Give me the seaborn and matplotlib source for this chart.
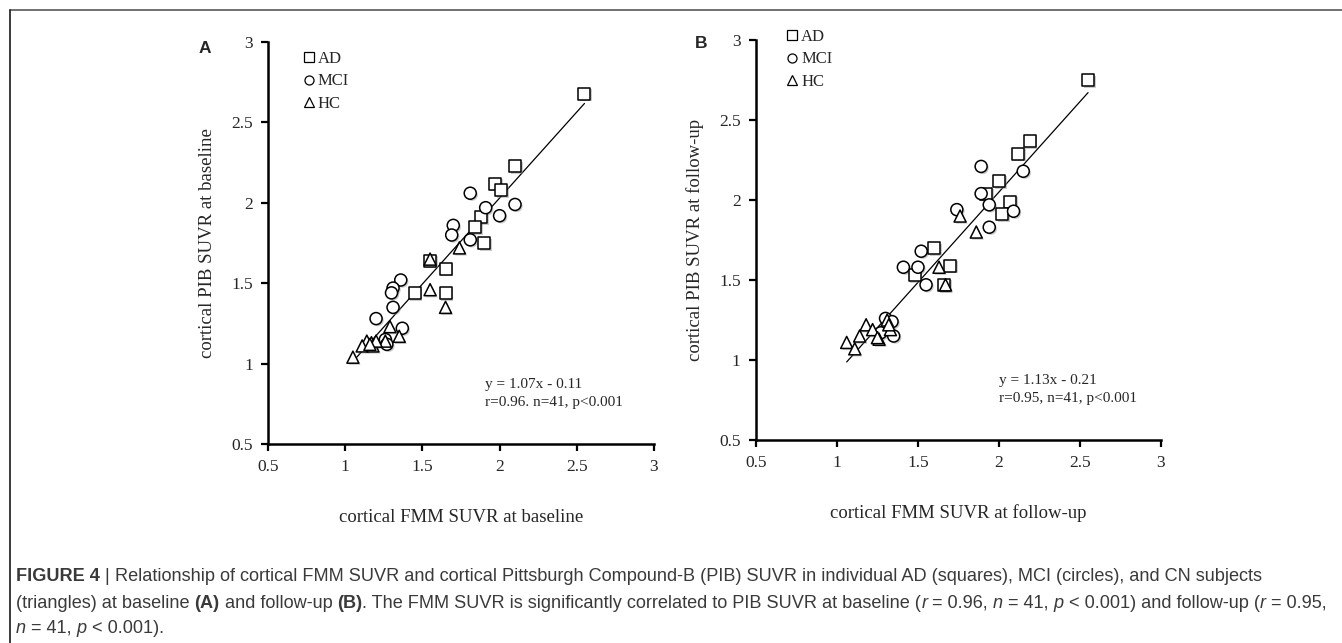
import numpy as np
import pandas as pd
import matplotlib
matplotlib.use('Agg')
import matplotlib.pyplot as plt
import matplotlib.patheffects as pe
from matplotlib.lines import Line2D
import seaborn as sns

sns.set_style('white')
plt.rcParams['font.family'] = ['Liberation Serif', 'DejaVu Serif']

# Panel A: baseline values
a_ad_x = [2.55, 2.10, 1.97, 2.01, 1.88, 1.84, 1.90, 1.55, 1.65, 1.45, 1.65]
a_ad_y = [2.68, 2.23, 2.12, 2.08, 1.91, 1.85, 1.75, 1.64, 1.59, 1.44, 1.44]
a_mci_x = [1.81, 1.91, 2.10, 2.00, 1.70, 1.69, 1.81, 1.36, 1.31, 1.30, 1.31, 1.20, 1.37, 1.26, 1.27]
a_mci_y = [2.06, 1.97, 1.99, 1.92, 1.86, 1.80, 1.77, 1.52, 1.47, 1.44, 1.35, 1.28, 1.22, 1.15, 1.12]
a_hc_x = [1.55, 1.74, 1.55, 1.65, 1.29, 1.35, 1.26, 1.14, 1.11, 1.17, 1.18, 1.20, 1.05, 1.16]
a_hc_y = [1.65, 1.72, 1.46, 1.35, 1.23, 1.17, 1.14, 1.14, 1.11, 1.13, 1.11, 1.14, 1.04, 1.12]

# Panel B: follow-up values
b_ad_x = [2.55, 2.19, 2.12, 2.00, 1.92, 2.07, 2.02, 1.60, 1.70, 1.48, 1.66]
b_ad_y = [2.75, 2.37, 2.29, 2.12, 2.04, 1.99, 1.91, 1.70, 1.59, 1.53, 1.47]
b_mci_x = [1.89, 2.15, 1.89, 1.94, 2.09, 1.74, 1.94, 1.52, 1.41, 1.50, 1.55, 1.30, 1.34, 1.35, 1.27]
b_mci_y = [2.21, 2.18, 2.04, 1.97, 1.93, 1.94, 1.83, 1.68, 1.58, 1.58, 1.47, 1.26, 1.24, 1.15, 1.17]
b_hc_x = [1.76, 1.86, 1.63, 1.67, 1.06, 1.11, 1.14, 1.18, 1.22, 1.26, 1.25, 1.31, 1.33, 1.32]
b_hc_y = [1.90, 1.80, 1.58, 1.47, 1.11, 1.07, 1.15, 1.22, 1.19, 1.13, 1.14, 1.25, 1.19, 1.22]

groups = ['AD', 'MCI', 'HC']
group_markers = {'AD': 's', 'MCI': 'o', 'HC': '^'}
ticks = [0.5, 1, 1.5, 2, 2.5, 3]
tick_labels = ['0.5', '1', '1.5', '2', '2.5', '3']


def make_df(ad_x, ad_y, mci_x, mci_y, hc_x, hc_y):
    parts = []
    for g, xs, ys in [('AD', ad_x, ad_y), ('MCI', mci_x, mci_y), ('HC', hc_x, hc_y)]:
        parts.append(pd.DataFrame({'fmm': xs, 'pib': ys, 'group': g}))
    return pd.concat(parts, ignore_index=True)


fig = plt.figure(figsize=(13.42, 6.43), dpi=100)

panels = [
    dict(df=make_df(a_ad_x, a_ad_y, a_mci_x, a_mci_y, a_hc_x, a_hc_y),
         rect=[0.1997, 0.3095, 0.2876, 0.625], slope=1.07, icpt=-0.11,
         line_x=(1.05, 2.55),
         eq='y = 1.07x - 0.11', stat='r=0.96. n=41, p<0.001', eq_xy=(0.562, 0.147),
         xlabel='cortical FMM SUVR at baseline', ylabel='cortical PIB SUVR at baseline',
         letter='A', letter_pos=(0.148, 0.924), leg_xy=(0.075, 0.995)),
    dict(df=make_df(b_ad_x, b_ad_y, b_mci_x, b_mci_y, b_hc_x, b_hc_y),
         rect=[0.5633, 0.3157, 0.3018, 0.622], slope=1.13, icpt=-0.21,
         line_x=(1.06, 2.55),
         eq='y = 1.13x - 0.21', stat='r=0.95, n=41, p<0.001', eq_xy=(0.60, 0.148),
         xlabel='cortical FMM SUVR at follow-up', ylabel='cortical PIB SUVR at follow-up',
         letter='B', letter_pos=(0.518, 0.933), leg_xy=(0.06, 1.045)),
]

shadow = [pe.SimplePatchShadow(offset=(1.2, -1.2), shadow_rgbFace='0.55', alpha=0.45), pe.Normal()]

for p in panels:
    ax = fig.add_axes(p['rect'])
    sns.scatterplot(data=p['df'], x='fmm', y='pib', style='group', markers=group_markers,
                    style_order=groups, s=75, facecolor='white', edgecolor='black',
                    linewidth=1.1, legend=False, ax=ax, zorder=3)
    for coll in ax.collections:
        coll.set_path_effects(shadow)
    lx = np.array(p['line_x'])
    ax.plot(lx, p['slope'] * lx + p['icpt'], color='black', lw=0.9, zorder=2)

    ax.set_xlim(0.5, 3)
    ax.set_ylim(0.5, 3)
    ax.set_xticks(ticks)
    ax.set_xticklabels(tick_labels)
    ax.set_yticks(ticks)
    ax.set_yticklabels(tick_labels)
    ax.tick_params(axis='both', direction='out', length=5, width=1.6, color='black',
                   labelsize=12.5, pad=6, bottom=True, left=True)
    sns.despine(ax=ax)
    for side in ['left', 'bottom']:
        ax.spines[side].set_linewidth(1.8)
        ax.spines[side].set_color('black')
    ax.set_xlabel(p['xlabel'], fontsize=13.5, labelpad=24)
    ax.set_ylabel(p['ylabel'], fontsize=13.5, labelpad=11)

    ex, ey = p['eq_xy']
    ax.text(ex, ey, p['eq'], transform=ax.transAxes, fontsize=11, va='center')
    ax.text(ex, ey - 0.043, p['stat'], transform=ax.transAxes, fontsize=11, va='center')

    handles = [Line2D([], [], ls='none', marker=group_markers[g], markersize=6.5,
                      markerfacecolor='white', markeredgecolor='black', markeredgewidth=0.9)
               for g in groups]
    ax.legend(handles, groups, loc='upper left', bbox_to_anchor=p['leg_xy'], frameon=False,
              fontsize=12, handlelength=0.6, handletextpad=0.25, labelspacing=0.4,
              borderaxespad=0)
    fig.text(p['letter_pos'][0], p['letter_pos'][1], p['letter'], fontsize=12.5,
             fontweight='bold', family=['Liberation Sans', 'DejaVu Sans'], va='center')

# frame around the figure panel
fig.add_artist(Line2D([0.0075, 1.0], [0.984, 0.984], transform=fig.transFigure, color='0.35', lw=1.2))
fig.add_artist(Line2D([0.0075, 0.0075], [0.0, 0.984], transform=fig.transFigure, color='0.1', lw=1.2))

# caption, drawn run by run so styles can mix
cap_color = '#3a3a3a'
cap_lines = [
    [('FIGURE 4', 'bold', 'normal'), (' ', 'normal', 'normal'), ('|', 'normal', 'normal'),
     (' Relationship of cortical FMM SUVR and cortical Pittsburgh Compound-B (PIB) SUVR in individual AD (squares), MCI (circles), and CN subjects', 'normal', 'normal')],
    [('(triangles) at baseline ', 'normal', 'normal'), ('(A)', 'bold', 'normal'),
     (' and follow-up ', 'normal', 'normal'), ('(B)', 'bold', 'normal'),
     ('. The FMM SUVR is significantly correlated to PIB SUVR at baseline (', 'normal', 'normal'),
     ('r', 'normal', 'italic'), (' = 0.96, ', 'normal', 'normal'), ('n', 'normal', 'italic'),
     (' = 41, ', 'normal', 'normal'), ('p', 'normal', 'italic'),
     (' < 0.001) and follow-up (', 'normal', 'normal'), ('r', 'normal', 'italic'),
     (' = 0.95,', 'normal', 'normal')],
    [('n', 'normal', 'italic'), (' = 41, ', 'normal', 'normal'), ('p', 'normal', 'italic'),
     (' < 0.001).', 'normal', 'normal')],
]
cap_y = [0.103, 0.062, 0.023]

fig.canvas.draw()
renderer = fig.canvas.get_renderer()
for runs, y in zip(cap_lines, cap_y):
    x_px = 16
    for txt, weight, style in runs:
        t = fig.text(x_px / fig.bbox.width, y, txt, fontsize=13.1, fontweight=weight,
                     fontstyle=style, color=cap_color, va='center',
                     family=['Liberation Sans Narrow', 'Liberation Sans', 'DejaVu Sans'])
        bb = t.get_window_extent(renderer=renderer)
        x_px += bb.width

fig.savefig('out.png', dpi=100)
